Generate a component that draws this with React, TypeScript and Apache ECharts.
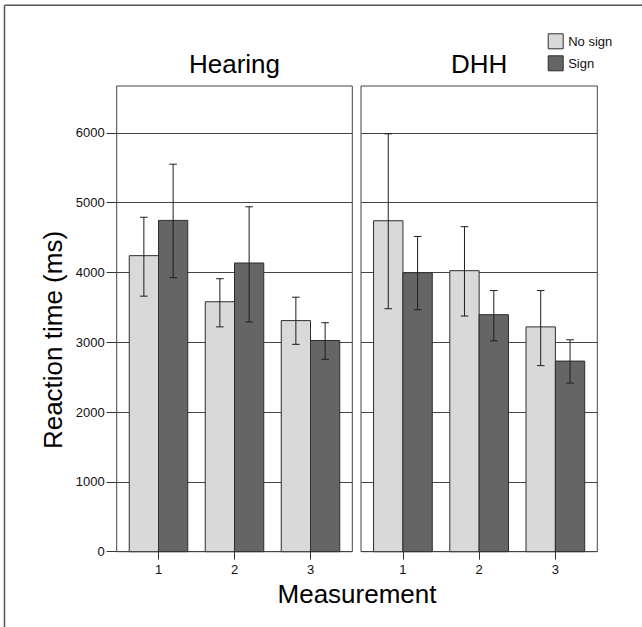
import React, { useEffect, useRef } from "react";
import * as echarts from "echarts";

const categories = [1, 2, 3];
const yTicks = [0, 1000, 2000, 3000, 4000, 5000, 6000];

const hearingNoSign = [4240, 3580, 3310];
const hearingNoSignLo = [3660, 3220, 2970];
const hearingNoSignHi = [4790, 3910, 3645];
const hearingSign = [4745, 4135, 3025];
const hearingSignLo = [3925, 3290, 2755];
const hearingSignHi = [5550, 4940, 3280];

const dhhNoSign = [4740, 4025, 3220];
const dhhNoSignLo = [3480, 3375, 2665];
const dhhNoSignHi = [5985, 4655, 3740];
const dhhSign = [3995, 3395, 2730];
const dhhSignLo = [3465, 3020, 2415];
const dhhSignHi = [4515, 3740, 3035];

const FONT = '"Liberation Sans", Arial, Helvetica, sans-serif';
const LIGHT = "#d9d9d9";
const DARK = "#656565";
const EDGE = "#2e2e2e";
const BAR_W = 0.385;
const CAP_W = 0.1;

function makeSeries(
  name: string,
  panel: number,
  offset: number,
  fill: string,
  values: number[],
  lo: number[],
  hi: number[]
) {
  return {
    type: "custom",
    name,
    xAxisIndex: panel,
    yAxisIndex: panel,
    itemStyle: { color: fill, borderColor: EDGE, borderWidth: 1 },
    encode: { x: 0, y: [1, 2, 3] },
    data: categories.map((c, i) => [c, values[i], lo[i], hi[i]]),
    renderItem: (params: any, api: any) => {
      const x = api.value(0) + offset;
      const tl = api.coord([x - BAR_W / 2, api.value(1)]);
      const br = api.coord([x + BAR_W / 2, 0]);
      const top = api.coord([x, api.value(3)]);
      const bot = api.coord([x, api.value(2)]);
      const cap = api.size([CAP_W, 0])[0] / 2;
      const ls = { stroke: "#1e1e1e", lineWidth: 1 };
      return {
        type: "group",
        children: [
          {
            type: "rect",
            shape: { x: tl[0], y: tl[1], width: br[0] - tl[0], height: br[1] - tl[1] },
            style: { fill, stroke: EDGE, lineWidth: 1 },
          },
          { type: "line", shape: { x1: top[0], y1: top[1], x2: bot[0], y2: bot[1] }, style: ls },
          { type: "line", shape: { x1: top[0] - cap, y1: top[1], x2: top[0] + cap, y2: top[1] }, style: ls },
          { type: "line", shape: { x1: bot[0] - cap, y1: bot[1], x2: bot[0] + cap, y2: bot[1] }, style: ls },
        ],
      };
    },
  };
}

export default function App() {
  const ref = useRef<HTMLDivElement>(null);
  useEffect(() => {
    if (!ref.current) return;
    const chart = echarts.init(ref.current, undefined, { renderer: "svg" });
    const gridTop = 86;
    const gridH = 465.7;
    const xAxes = [0, 1].map((i) => ({
      type: "value",
      gridIndex: i,
      min: 0.45,
      max: 3.55,
      splitLine: { show: false },
      axisLine: { show: false },
      axisTick: { show: true, length: 8, customValues: categories, lineStyle: { color: "#333" } },
      axisLabel: {
        customValues: categories,
        margin: 11,
        fontSize: 13,
        color: "#111",
        fontFamily: FONT,
        formatter: (v: number) => String(v),
      },
    }));
    const yAxes = [0, 1].map((i) => ({
      type: "value",
      gridIndex: i,
      min: 0,
      max: 6670,
      interval: 1000,
      axisLine: { show: false },
      axisTick: { show: i === 0, length: 10, customValues: yTicks, lineStyle: { color: "#333" } },
      axisLabel: {
        show: i === 0,
        customValues: yTicks,
        margin: 12,
        fontSize: 13,
        color: "#111",
        fontFamily: FONT,
        formatter: (v: number) => String(v),
      },
      splitLine: { show: true, lineStyle: { color: "#444", width: 1 } },
    }));
    chart.setOption({
      animation: false,
      textStyle: { fontFamily: FONT },
      grid: [
        { left: 116.7, top: gridTop, width: 235.6, height: gridH, show: true, borderColor: "#444", borderWidth: 1, backgroundColor: "transparent" },
        { left: 361, top: gridTop, width: 236.3, height: gridH, show: true, borderColor: "#444", borderWidth: 1, backgroundColor: "transparent" },
      ],
      xAxis: xAxes,
      yAxis: yAxes,
      legend: {
        orient: "vertical",
        left: 542.7,
        top: 28.3,
        itemWidth: 15,
        itemHeight: 15,
        itemGap: 6,
        icon: "rect",
        selectedMode: false,
        textStyle: { fontSize: 13, color: "#111", fontFamily: FONT },
        data: [
          { name: "No sign", itemStyle: { color: LIGHT, borderColor: EDGE, borderWidth: 1 } },
          { name: "Sign", itemStyle: { color: DARK, borderColor: EDGE, borderWidth: 1 } },
        ],
      },
      graphic: [
        { type: "line", shape: { x1: 4.5, y1: 5.3, x2: 642, y2: 5.3 }, style: { stroke: "#555", lineWidth: 1.5 } },
        { type: "line", shape: { x1: 4.5, y1: 5.3, x2: 4.5, y2: 627 }, style: { stroke: "#555", lineWidth: 1.5 } },
        { type: "text", x: 234.5, y: 64.3, style: { text: "Hearing", fontSize: 26, fontFamily: FONT, fill: "#000", textAlign: "center", textVerticalAlign: "middle" } },
        { type: "text", x: 479.2, y: 64.3, style: { text: "DHH", fontSize: 26, fontFamily: FONT, fill: "#000", textAlign: "center", textVerticalAlign: "middle" } },
        { type: "text", x: 357, y: 594, style: { text: "Measurement", fontSize: 26, fontFamily: FONT, fill: "#000", textAlign: "center", textVerticalAlign: "middle" } },
        { type: "text", x: 52.5, y: 340, rotation: Math.PI / 2, style: { text: "Reaction time (ms)", fontSize: 26, fontFamily: FONT, fill: "#000", textAlign: "center", textVerticalAlign: "middle" } },
      ],
      series: [
        makeSeries("No sign", 0, -BAR_W / 2, LIGHT, hearingNoSign, hearingNoSignLo, hearingNoSignHi),
        makeSeries("Sign", 0, BAR_W / 2, DARK, hearingSign, hearingSignLo, hearingSignHi),
        makeSeries("No sign", 1, -BAR_W / 2, LIGHT, dhhNoSign, dhhNoSignLo, dhhNoSignHi),
        makeSeries("Sign", 1, BAR_W / 2, DARK, dhhSign, dhhSignLo, dhhSignHi),
      ],
    });
    return () => chart.dispose();
  }, []);
  return (
    <div
      ref={ref}
      style={{ position: "absolute", left: 0, top: 0, width: 642, height: 627, background: "#fff" }}
    />
  );
}
